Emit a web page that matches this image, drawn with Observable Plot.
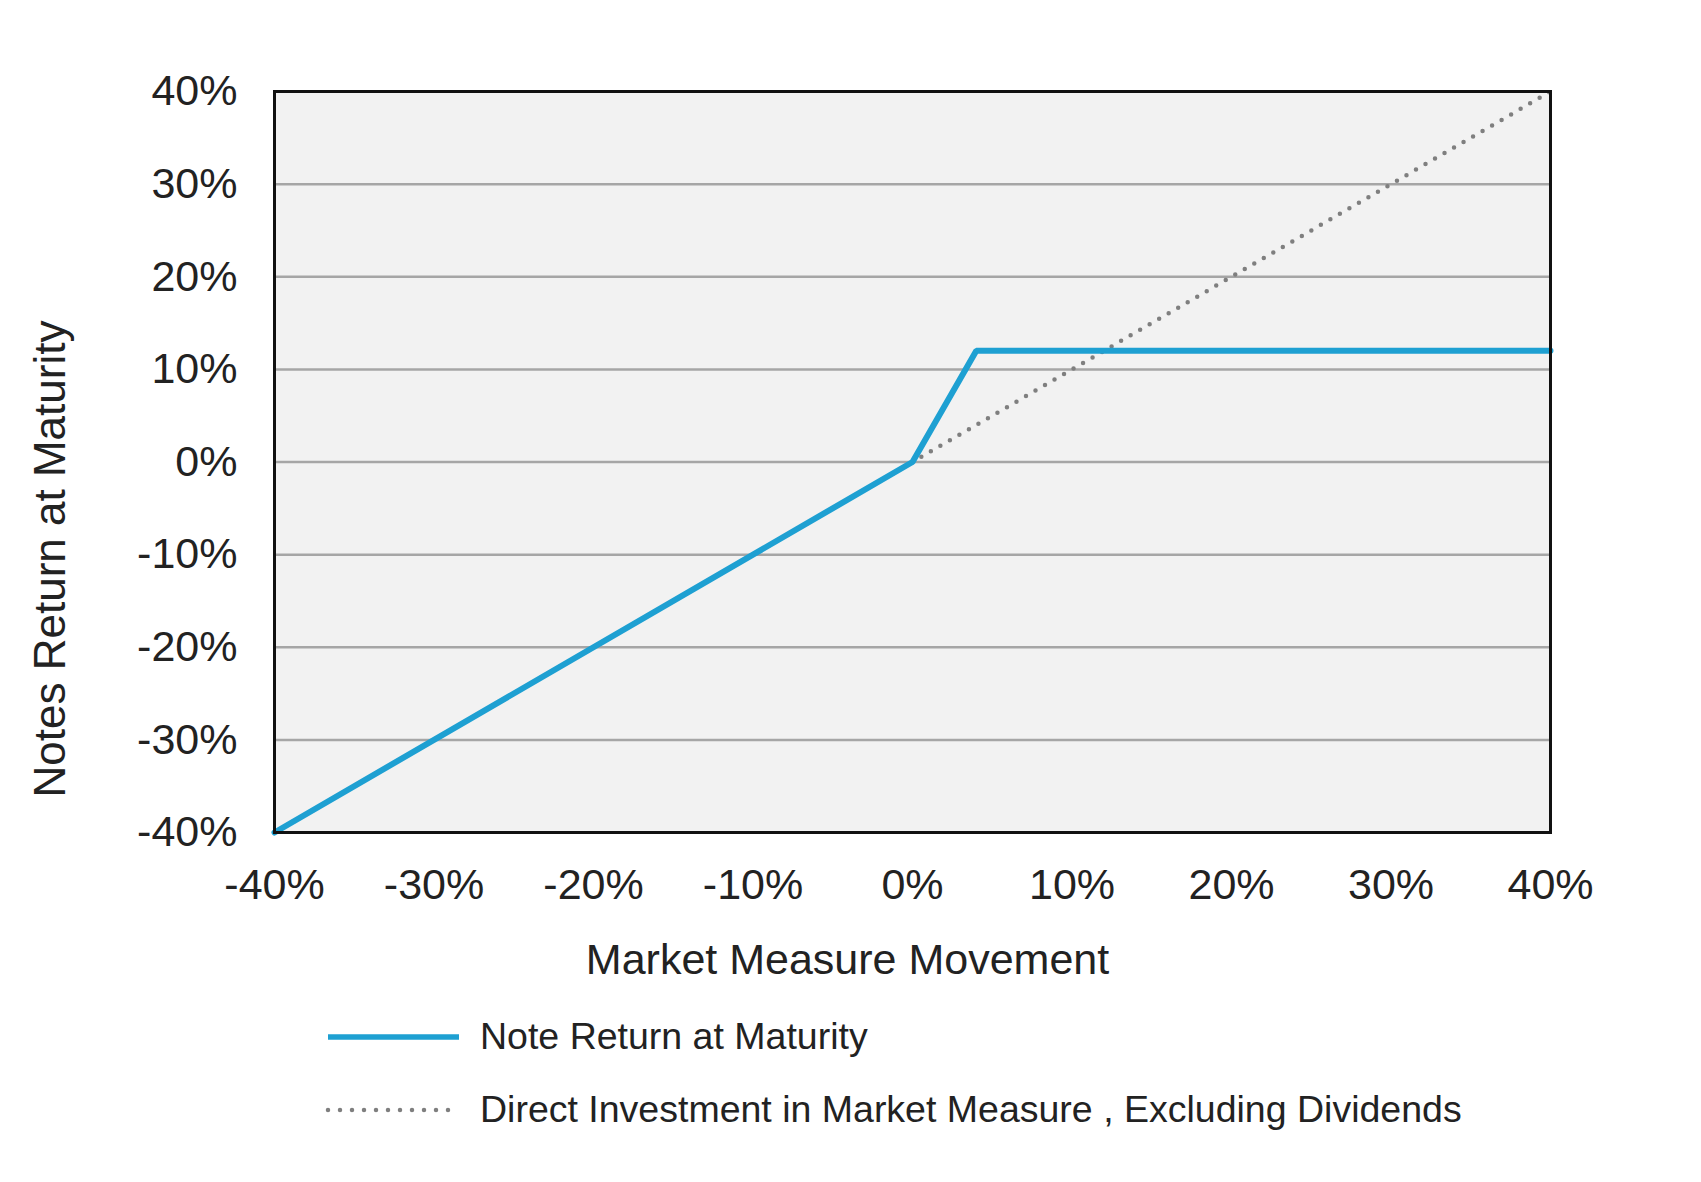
<!DOCTYPE html>
<html>
<head>
<meta charset="utf-8">
<script src="https://cdn.jsdelivr.net/npm/d3@7"></script>
<script src="https://cdn.jsdelivr.net/npm/@observablehq/plot@0.6"></script>
<style>
  html, body { margin: 0; padding: 0; background: white; }
  body { width: 1701px; font-family: "Liberation Sans", Arial, sans-serif; color: #222; }
  #chart svg { display: block; overflow: visible; }
  .legend { padding-left: 325px; margin-top: 0px; }
  .row { display: flex; align-items: center; height: 73px; font-size: 37.5px; }
  .row svg { margin-right: 18px; display: block; }
</style>
</head>
<body>
<div id="chart"></div>
<div class="legend" id="legend"></div>
<script>
// ---- data ----
const marketMoves = [-40, 0, 4, 40];          // market measure movement (%)
const noteReturns = [-40, 0, 12, 12];         // note return at maturity (%)
const directMoves = [-40, 40];                // direct investment x (%)
const directReturns = [-40, 40];              // direct investment return (%)
const xTicks = [-40, -30, -20, -10, 0, 10, 20, 30, 40];
const yTicks = [-40, -30, -20, -10, 0, 10, 20, 30, 40];
const xLabel = "Market Measure Movement";
const yLabel = "Notes Return at Maturity";
const seriesNames = ["Note Return at Maturity", "Direct Investment in Market Measure , Excluding Dividends"];

const blue = "#1ea0d2";
const gray = "#7f7f7f";

const note = marketMoves.map((x, i) => ({x, y: noteReturns[i]}));
const direct = directMoves.map((x, i) => ({x, y: directReturns[i]}));
const pct = d => d + "%";

const chart = Plot.plot({
  width: 1701,
  height: 1000,
  marginLeft: 274,
  marginRight: 151,
  marginTop: 91,
  marginBottom: 168,
  style: {fontFamily: "Liberation Sans, Arial, sans-serif", fontSize: "43px", color: "#222", background: "white", overflow: "visible"},
  x: {domain: [-40, 40]},
  y: {domain: [-40, 40]},
  marks: [
    Plot.frame({fill: "#f2f2f2"}),
    Plot.gridY(yTicks, {stroke: "#a6a6a6", strokeOpacity: 1, strokeWidth: 2.5}),
    Plot.line(direct, {x: "x", y: "y", stroke: gray, strokeWidth: 4.5, strokeDasharray: "0,11", strokeLinecap: "round"}),
    Plot.line(note, {x: "x", y: "y", stroke: blue, strokeWidth: 6, strokeLinejoin: "miter"}),
    Plot.frame({stroke: "#111", strokeWidth: 3}),
    Plot.axisX(xTicks, {tickSize: 0, tickPadding: 36, tickFormat: pct, label: null, fontSize: 43, fill: "#222"}),
    Plot.axisY(yTicks, {tickSize: 0, tickPadding: 37, tickFormat: pct, label: null, fontSize: 43, fill: "#222"}),
    Plot.text([xLabel], {text: d => d, frameAnchor: "bottom", dx: -65, dy: 128, lineAnchor: "middle", fontSize: 43, fill: "#222"}),
    Plot.text([yLabel], {text: d => d, frameAnchor: "left", dx: -224, dy: 97, rotate: -90, lineAnchor: "middle", textAnchor: "middle", fontSize: 44, fill: "#222"})
  ]
});
document.getElementById("chart").appendChild(chart);

// ---- legend ----
const legend = d3.select("#legend");
const styles = [
  {stroke: blue, width: 5.5, dash: null, cap: "butt"},
  {stroke: gray, width: 4.5, dash: "0,12", cap: "round"}
];
seriesNames.forEach((name, i) => {
  const row = legend.append("div").attr("class", "row");
  const s = row.append("svg").attr("width", 137).attr("height", 12);
  s.append("line")
    .attr("x1", 3).attr("x2", 134).attr("y1", 6).attr("y2", 6)
    .attr("stroke", styles[i].stroke)
    .attr("stroke-width", styles[i].width)
    .attr("stroke-linecap", styles[i].cap)
    .attr("stroke-dasharray", styles[i].dash);
  row.append("span").text(name);
});
</script>
</body>
</html>
